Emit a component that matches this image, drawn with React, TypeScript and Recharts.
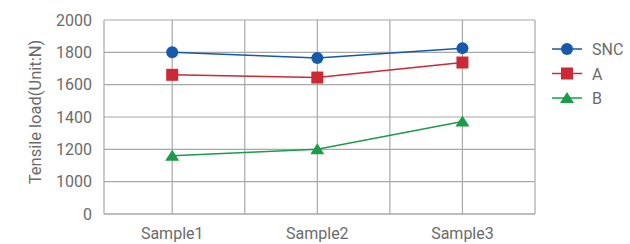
import React from 'react'
import {LineChart, Line, XAxis, YAxis, CartesianGrid} from 'recharts'

const samples = ['Sample1', 'Sample2', 'Sample3']
const sncValues = [1800, 1765, 1826]
const aValues = [1661, 1644, 1737]
const bValues = [1160, 1200, 1372]
const yTickLabels = ['0', '1000', '1200', '1400', '1600', '1800', '2000']
const xGridTicks = [1, 2, 3, 4, 5, 6]

const BLUE = '#1559ab'
const RED = '#cc2936'
const GREEN = '#1b9c4a'
const GRID = '#a8a8a8'
const TEXT = '#6b6b6b'

// broken y scale: 0..1000 takes one step, then 200 per step
function toAxis(v: number) {
  return v < 1000 ? v / 1000 : 1 + (v - 1000) / 200
}

const data = samples.map((name, i) => ({
  x: i * 2 + 1,
  name,
  snc: toAxis(sncValues[i]),
  a: toAxis(aValues[i]),
  b: toAxis(bValues[i]),
}))

function Square(props: any) {
  const {cx, cy, fill} = props
  return <rect x={cx - 6} y={cy - 6} width={12} height={12} fill={fill} />
}

function Triangle(props: any) {
  const {cx, cy, fill} = props
  return (
    <polygon
      points={`${cx},${cy - 6} ${cx + 7},${cy + 5} ${cx - 7},${cy + 5}`}
      fill={fill}
    />
  )
}

function Circle(props: any) {
  const {cx, cy, fill} = props
  return <circle cx={cx} cy={cy} r={6} fill={fill} />
}

const legendItems = [
  {label: 'SNC', color: BLUE, shape: Circle},
  {label: 'A', color: RED, shape: Square},
  {label: 'B', color: GREEN, shape: Triangle},
]

function LegendBox() {
  return (
    <svg
      width={80}
      height={90}
      style={{position: 'absolute', left: 550, top: 39}}
    >
      {legendItems.map((it, i) => {
        const y = 10 + i * 24.5
        const Shape = it.shape
        return (
          <g key={it.label}>
            <line x1={2} x2={32} y1={y} y2={y} stroke={it.color} strokeWidth={1.5} />
            <Shape cx={17} cy={y} fill={it.color} />
            <text
              x={42}
              y={y + 6}
              fill={TEXT}
              fontSize={16}
              fontFamily="Roboto"
            >
              {it.label}
            </text>
          </g>
        )
      })}
    </svg>
  )
}

function YLabel(props: any) {
  const {viewBox} = props
  const cy = viewBox.y + viewBox.height / 2 - 5
  return (
    <text
      x={35}
      y={cy}
      transform={`rotate(-90, 35, ${cy})`}
      textAnchor="middle"
      dominantBaseline="central"
      fill={TEXT}
      fontSize={16.5}
      fontFamily="Roboto"
    >
      Tensile load(Unit:N)
    </text>
  )
}

function verticalLines({xAxis}: any) {
  const scale = xAxis && xAxis.scale
  if (!scale) return []
  const fn = typeof scale === 'function' ? scale : scale.map
  return xGridTicks.map((v) => fn(v))
}

export default function App() {
  return (
    <div style={{position: 'absolute', left: 0, top: 0, width: 630, height: 244}}>
      <LineChart
        width={630}
        height={244}
        data={data}
        margin={{top: 20, right: 95, bottom: 0, left: 0}}
        style={{fontFamily: 'Roboto'}}
      >
        <CartesianGrid
          stroke={GRID}
          strokeWidth={1.2}
          verticalCoordinatesGenerator={verticalLines}
        />
        <XAxis
          dataKey="x"
          type="number"
          domain={[0.06, 6]}
          allowDataOverflow
          ticks={xGridTicks}
          interval={0}
          tickFormatter={(v: number) =>
            v % 2 === 1 ? samples[(v - 1) / 2] : ''
          }
          height={30}
          tickLine={false}
          tickMargin={8}
          axisLine={{stroke: GRID, strokeWidth: 1.2}}
          tick={{fill: TEXT, fontSize: 16}}
        />
        <YAxis
          type="number"
          domain={[0, 6]}
          ticks={[0, 1, 2, 3, 4, 5, 6]}
          interval={0}
          tickFormatter={(v: number) => yTickLabels[v]}
          width={104}
          tickLine={false}
          tickMargin={6}
          axisLine={{stroke: GRID, strokeWidth: 1.2}}
          tick={{fill: TEXT, fontSize: 16}}
          label={<YLabel />}
        />
        <Line
          dataKey="snc"
          stroke={BLUE}
          strokeWidth={1.5}
          dot={<Circle fill={BLUE} />}
          isAnimationActive={false}
        />
        <Line
          dataKey="a"
          stroke={RED}
          strokeWidth={1.5}
          dot={<Square fill={RED} />}
          isAnimationActive={false}
        />
        <Line
          dataKey="b"
          stroke={GREEN}
          strokeWidth={1.5}
          dot={<Triangle fill={GREEN} />}
          isAnimationActive={false}
        />
      </LineChart>
      <LegendBox />
    </div>
  )
}
